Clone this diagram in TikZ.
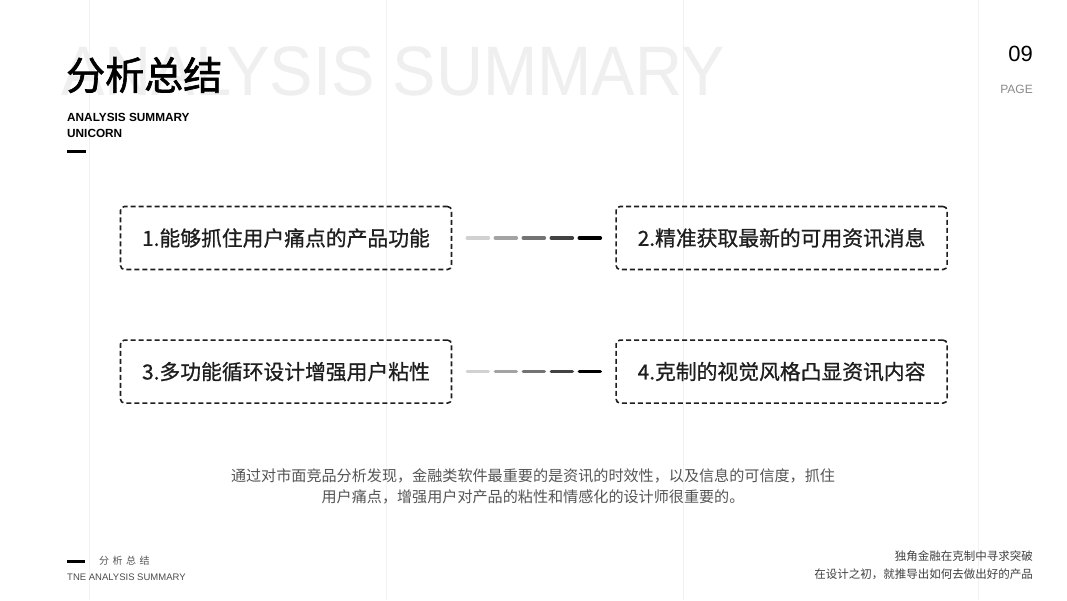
\documentclass[tikz,border=0pt]{standalone}
\usepackage{fontspec}
\setmainfont{Liberation Sans}
\newfontfamily\cjk{Noto Sans CJK SC}
\newfontfamily\cjkmid[FakeBold=0.8]{Noto Sans CJK SC}
\newfontfamily\cjkheavy[FakeBold=1.6]{Noto Sans CJK SC}
\usepackage{tikz}
\usetikzlibrary{positioning,calc}
\definecolor{ink}{HTML}{1E1E1E}
\definecolor{guide}{HTML}{F1F1F1}
\definecolor{ghost}{HTML}{EFEFEF}
\definecolor{body}{HTML}{555555}
\definecolor{muted}{HTML}{8A8A8A}

\begin{document}
\begin{tikzpicture}[
        x=1pt, y=-1pt,
        point/.style={draw=ink, dash pattern=on 5pt off 3pt, line width=1.6pt, rounded corners=4pt,
          minimum width=331pt, minimum height=63pt, inner sep=0pt, text=ink, font=\cjkmid\fontsize{20.8}{24}\selectfont},
        dashbit/.style={line width=3.6pt, line cap=round},
        bar/.style={line width=3pt}
      ]
      \useasboundingbox[fill=white] (0,0) rectangle (1067,600);
      \foreach \gx in {89,386,683,978}
        \draw[guide, line width=1pt] (\gx,0) -- (\gx,600);
      \node[anchor=base west, inner sep=0pt, xscale=0.93, text=ghost, font=\fontsize{70}{70}\selectfont] (ghosttitle) at (61,95) {ANALYSIS SUMMARY};
      \node[anchor=west, inner sep=0pt, text=black, font=\cjkheavy\fontsize{39}{40}\selectfont] (title) at (66,75) {分析总结};
      \node[anchor=base west, inner sep=0pt, align=left, font=\bfseries\fontsize{11.8}{16}\selectfont] (subtitle) at (67,137) {ANALYSIS SUMMARY\\UNICORN};
      \draw[bar] (67,151) -- (86,151);
      \node[anchor=base east, inner sep=0pt, font=\fontsize{22}{22}\selectfont] (pagenum) at (1033,61) {09};
      \node[anchor=base east, inner sep=0pt, text=muted, font=\fontsize{12}{12}\selectfont] (pagelabel) at (1033,93) {PAGE};

      \node[point] (p1) at (286,238) {1.能够抓住用户痛点的产品功能};
      \node[point, right=163pt of p1] (p2) {2.精准获取最新的可用资讯消息};
      \node[point, below=69pt of p1] (p3) {3.多功能循环设计增强用户粘性};
      \node[point, right=163pt of p3] (p4) {4.克制的视觉风格凸显资讯内容};
      \foreach \from in {p1,p3}
        \foreach \shade [count=\i from 0] in {18,36,55,74,100}
          \draw[dashbit, draw=black!\shade] ($(\from.east)+(15+28*\i,0)$) -- ++(21,0);

      \node[align=center, inner sep=0pt, text=body, font=\cjk\fontsize{15.1}{21}\selectfont] (summary) at (533,486)
        {通过对市面竞品分析发现，金融类软件最重要的是资讯的时效性，以及信息的可信度，抓住\\用户痛点，增强用户对产品的粘性和情感化的设计师很重要的。};

      \draw[bar] (67,561) -- (85,561);
      \node[anchor=west, inner sep=0pt, text=body, font=\cjk\fontsize{10}{12}\selectfont] (footcn) at (99,561)
        {分\hspace{3.5pt}析\hspace{3.5pt}总\hspace{3.5pt}结};
      \node[anchor=base west, inner sep=0pt, text=body!90!black, font=\fontsize{9.5}{12}\selectfont] (footen) at (67,580) {TNE ANALYSIS SUMMARY};
      \node[anchor=east, inner sep=0pt, align=right, text=ink!85, font=\cjk\fontsize{11.5}{18}\selectfont] (slogan) at (1033,565)
        {独角金融在克制中寻求突破\\在设计之初，就推导出如何去做出好的产品};
    \end{tikzpicture}
\end{document}
